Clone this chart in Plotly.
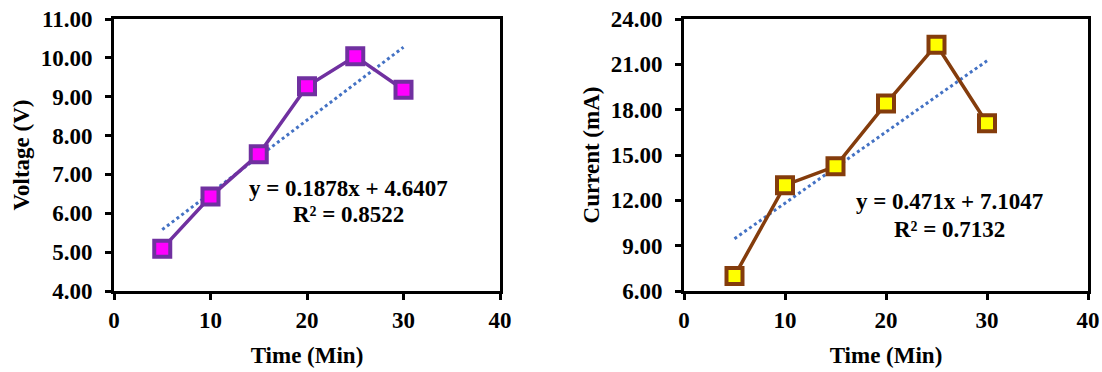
import plotly.graph_objects as go

time_min = [5, 10, 15, 20, 25, 30]
voltage_v = [5.09, 6.43, 7.52, 9.27, 10.04, 9.18]
current_ma = [7.0, 13.0, 14.25, 18.4, 22.3, 17.1]

v_slope, v_intercept = 0.1878, 4.6407
c_slope, c_intercept = 0.471, 7.1047
v_eq = ["y = 0.1878x + 4.6407", "R² = 0.8522"]
c_eq = ["y = 0.471x + 7.1047", "R² = 0.7132"]

x_ticks = [0, 10, 20, 30, 40]
v_ticks = [4, 5, 6, 7, 8, 9, 10, 11]
c_ticks = [6, 9, 12, 15, 18, 21, 24]

FONT = "Liberation Serif"

fig = go.Figure()

trend_x = [time_min[0], time_min[-1]]

# Left chart
fig.add_trace(go.Scatter(x=trend_x, y=[v_slope * t + v_intercept for t in trend_x],
                         mode="lines", line=dict(color="#4472C4", width=3, dash="dot"),
                         xaxis="x", yaxis="y", showlegend=False))
fig.add_trace(go.Scatter(x=time_min, y=voltage_v, mode="lines+markers",
                         line=dict(color="#7030A0", width=3.5),
                         marker=dict(symbol="square", size=16, color="#FF00FF",
                                     line=dict(color="#7030A0", width=4)),
                         xaxis="x", yaxis="y", showlegend=False))

# Right chart
fig.add_trace(go.Scatter(x=trend_x, y=[c_slope * t + c_intercept for t in trend_x],
                         mode="lines", line=dict(color="#4472C4", width=3, dash="dot"),
                         xaxis="x2", yaxis="y2", showlegend=False))
fig.add_trace(go.Scatter(x=time_min, y=current_ma, mode="lines+markers",
                         line=dict(color="#843C0C", width=3.5),
                         marker=dict(symbol="square", size=16, color="#FFFF00",
                                     line=dict(color="#843C0C", width=4)),
                         xaxis="x2", yaxis="y2", showlegend=False))

W, H = 1102, 372
ax_common = dict(showgrid=False, zeroline=False, showline=True, linecolor="black",
                 linewidth=3, mirror=True, ticks="outside", ticklen=6, tickwidth=3,
                 tickcolor="black",
                 tickfont=dict(family=FONT, size=23, color="black", weight="bold"))

title_font = dict(family=FONT, size=23, color="black", weight="bold")

fig.update_layout(
    width=W, height=H,
    margin=dict(l=0, r=0, t=0, b=0, autoexpand=False),
    paper_bgcolor="white", plot_bgcolor="white",
    xaxis=dict(domain=[114 / W, 500 / W], range=[0, 40], tickvals=x_ticks,
               title=dict(text="Time (Min)", font=title_font, standoff=16),
               anchor="y", automargin=False, **ax_common),
    yaxis=dict(domain=[81 / H, 353 / H], range=[4, 11], tickvals=v_ticks,
               tickformat=".2f", ticklabelstandoff=8,
               title=dict(text="Voltage (V)", font=title_font, standoff=5),
               anchor="x", automargin=False, **ax_common),
    xaxis2=dict(domain=[684 / W, 1088 / W], range=[0, 40], tickvals=x_ticks,
                title=dict(text="Time (Min)", font=title_font, standoff=16),
                anchor="y2", automargin=False, **ax_common),
    yaxis2=dict(domain=[81 / H, 353 / H], range=[6, 24], tickvals=c_ticks,
                tickformat=".2f", ticklabelstandoff=8,
                title=dict(text="Current (mA)", font=title_font, standoff=5),
                anchor="x2", automargin=False, **ax_common),
)

ann_font = dict(family=FONT, size=23, color="black", weight="bold")
fig.add_annotation(x=24.25, y=6.65, xref="x", yref="y", text=v_eq[0], showarrow=False, font=ann_font)
fig.add_annotation(x=24.25, y=5.96, xref="x", yref="y", text=v_eq[1], showarrow=False, font=ann_font)
fig.add_annotation(x=26.3, y=11.89, xref="x2", yref="y2", text=c_eq[0], showarrow=False, font=ann_font)
fig.add_annotation(x=26.3, y=10.10, xref="x2", yref="y2", text=c_eq[1], showarrow=False, font=ann_font)

fig.write_html("out.html", config={"displayModeBar": False},
               post_script="document.body.style.margin='0';document.body.style.overflow='hidden';")
